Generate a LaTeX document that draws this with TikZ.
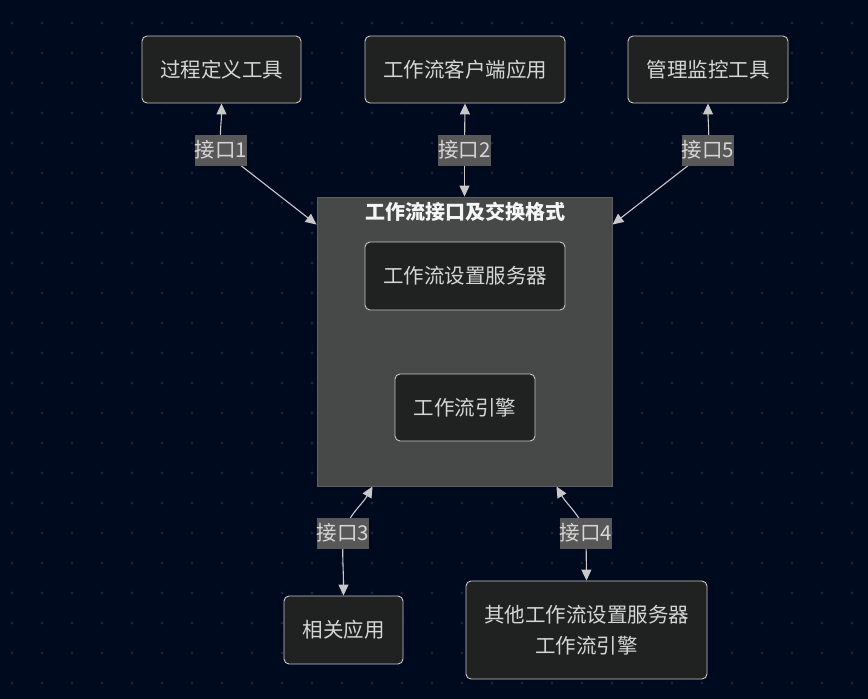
\documentclass[tikz,border=0pt]{standalone}
\usepackage{fontspec}
\usetikzlibrary{arrows.meta}
\newfontfamily\cjk{Noto Sans CJK SC}
\definecolor{pagebg}{HTML}{000A1F}
\definecolor{gridgray}{HTML}{1C2332}
\definecolor{boxfill}{HTML}{202121}
\definecolor{boxline}{HTML}{C8C8C8}
\definecolor{groupfill}{HTML}{474949}
\definecolor{groupline}{HTML}{5E6060}
\definecolor{tagfill}{HTML}{585858}
\definecolor{textgray}{HTML}{D6D6D6}
\pgfdeclarelayer{background}
\pgfdeclarelayer{edges}
\pgfsetlayers{background,edges,main}

\begin{document}
\begin{tikzpicture}[
    x=1pt, y=-1pt,
    >=Triangle,
    % Estilos
    procbox/.style={
        rectangle,
        draw=boxline,
        fill=boxfill,
        rounded corners=5pt,
        line width=0.9pt,
        align=center,
        text=textgray,
        font=\cjk\fontsize{20.5}{31}\selectfont
    },
    groupbox/.style={
        rectangle,
        draw=groupline,
        fill=groupfill,
        line width=0.9pt,
        minimum width=295pt,
        minimum height=289pt
    },
    tagbox/.style={
        rectangle,
        fill=tagfill,
        minimum width=50pt,
        minimum height=31pt,
        inner sep=0pt,
        text=textgray,
        font=\cjk\fontsize{20.5}{22}\selectfont
    },
    link/.style={
        draw=boxline,
        line width=1.1pt,
        -{Triangle[length=11pt,width=10pt]}
    }
]
    \useasboundingbox (0,0) rectangle (868,699);

    % ==========================================
    % FONDO CON PUNTOS
    % ==========================================
    \begin{pgfonlayer}{background}
        \fill[pagebg] (0,0) rectangle (868,699);
        \foreach \i in {0,...,28}
            \foreach \j in {0,...,22}
                \fill[gridgray] (12+30*\i, 23+30*\j) circle (1.6pt);
    \end{pgfonlayer}

    % ==========================================
    % GRUPO CENTRAL
    % ==========================================
    \node[groupbox] (wfBox) at (464.5,341.5) {};
    \node[text=white!92!gray, font=\cjk\bfseries\fontsize{20}{22}\selectfont] (wfTitle) at (465,212) {工作流接口及交换格式};
    \node[procbox, minimum width=200pt, minimum height=68pt] (setupSrv) at (465,276) {工作流设置服务器};
    \node[procbox, minimum width=140pt, minimum height=67pt] (engine) at (465,407.5) {工作流引擎};

    % ==========================================
    % NODOS SUPERIORES
    % ==========================================
    \node[procbox, minimum width=159pt, minimum height=67pt] (defTool) at (221.5,69.5) {过程定义工具};
    \node[procbox, minimum width=200pt, minimum height=67pt] (clientApp) at (465,69.5) {工作流客户端应用};
    \node[procbox, minimum width=160pt, minimum height=67pt] (monitorTool) at (708,69.5) {管理监控工具};

    % ==========================================
    % NODOS INFERIORES
    % ==========================================
    \node[procbox, minimum width=119pt, minimum height=68pt] (relApp) at (343.5,630) {相关应用};
    \node[procbox, minimum width=241pt, minimum height=98pt] (otherSrv) at (586.5,630) {其他工作流设置服务器\\工作流引擎};

    % Etiquetas de interfaz
    \node[tagbox] (if1) at (221,150) {接口1};
    \node[tagbox] (if2) at (464.5,150) {接口2};
    \node[tagbox] (if5) at (708,150) {接口5};
    \node[tagbox] (if3) at (343,533) {接口3};
    \node[tagbox] (if4) at (586,533) {接口4};

    % Puntos de llegada al grupo
    \coordinate (in1) at ([yshift=-28pt]wfBox.north west);
    \coordinate (in5) at ([yshift=-28pt]wfBox.north east);
    \coordinate (in3) at ([xshift=56pt]wfBox.south west);
    \coordinate (in4) at ([xshift=-56pt]wfBox.south east);

    % ==========================================
    % CONEXIONES
    % ==========================================
    \begin{pgfonlayer}{edges}
        \draw[link] (if1.center) to[out=95,in=-90] (defTool.south);
        \draw[link] (if1.center) -- (in1);

        \draw[link] (if2.center) -- (clientApp.south);
        \draw[link] (if2.center) -- (wfBox.north);

        \draw[link] (if5.center) to[out=85,in=-90] (monitorTool.south);
        \draw[link] (if5.center) -- (in5);

        \draw[link] (if3.center) to[out=70,in=-120] (in3);
        \draw[link] (if3.center) to[out=-92,in=90] (relApp.north);

        \draw[link] (if4.center) to[out=110,in=-60] (in4);
        \draw[link] (if4.center) -- (otherSrv.north);
    \end{pgfonlayer}

\end{tikzpicture}
\end{document}
